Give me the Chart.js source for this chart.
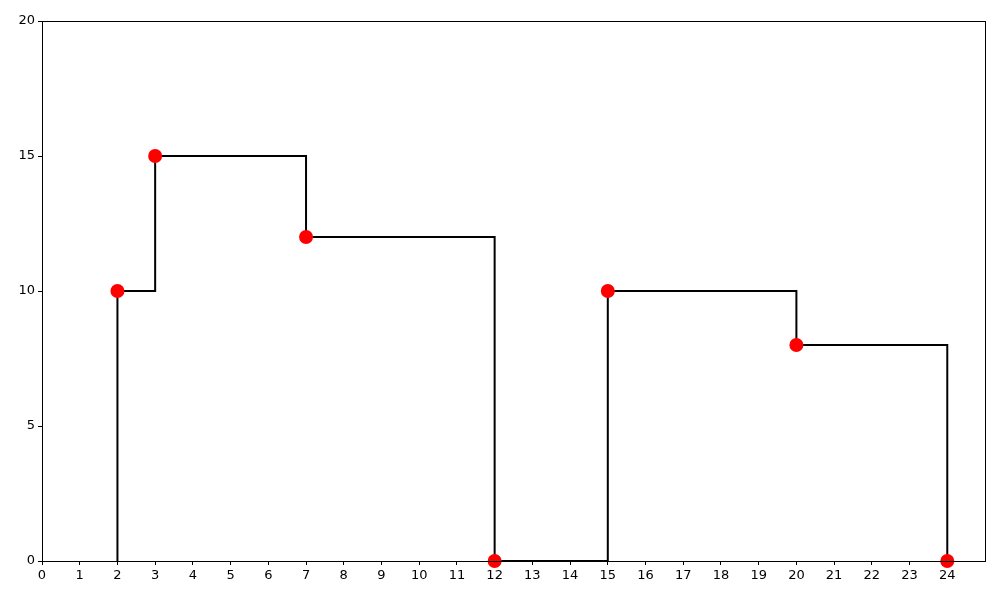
<!DOCTYPE html>
<html>
<head>
<meta charset="utf-8">
<script src="https://cdn.jsdelivr.net/npm/chart.js@4/dist/chart.umd.min.js"></script>
<style>
  html, body { margin: 0; padding: 0; background: #fff; }
  #wrap { width: 1000px; height: 600px; }
</style>
</head>
<body>
<div id="wrap"><canvas id="stepChart" width="1000" height="600"></canvas></div>
<script>
// Data
const xValues = [2, 3, 7, 12, 15, 20, 24];
const yValues = [10, 15, 12, 0, 10, 8, 0];
const startY = 0;
const xTicks = [0, 1, 2, 3, 4, 5, 6, 7, 8, 9, 10, 11, 12, 13, 14, 15, 16, 17, 18, 19, 20, 21, 22, 23, 24];
const yTicks = [0, 5, 10, 15, 20];

// step line starts from the baseline under the first point
const linePoints = [{ x: xValues[0], y: startY }].concat(
    xValues.map((x, i) => ({ x: x, y: yValues[i] }))
);
const markerPoints = xValues.map((x, i) => ({ x: x, y: yValues[i] }));

// full box around the plot area
const frame = {
    id: 'frame',
    afterDraw(chart) {
        const { ctx, chartArea: a } = chart;
        ctx.save();
        ctx.strokeStyle = '#000';
        ctx.lineWidth = 1;
        ctx.strokeRect(Math.round(a.left) + 0.5, Math.round(a.top) + 0.5,
            Math.round(a.right - a.left), Math.round(a.bottom - a.top));
        ctx.restore();
    }
};

const font = { family: 'DejaVu Sans', size: 13 };

const ctx = document.getElementById('stepChart').getContext('2d');
const stepChart = new Chart(ctx, {
    type: 'line',
    data: {
        datasets: [{
            data: markerPoints,
            showLine: false,
            pointRadius: 7,
            pointHoverRadius: 7,
            pointBackgroundColor: '#ff0000',
            pointBorderColor: '#ff0000',
            borderWidth: 0,
            clip: false
        }, {
            data: linePoints,
            stepped: 'before',
            borderColor: '#000',
            borderWidth: 2,
            pointRadius: 0,
            fill: false,
            clip: false
        }]
    },
    options: {
        responsive: false,
        animation: false,
        layout: { padding: { top: 21, right: 15, left: 0, bottom: 0 } },
        plugins: {
            legend: { display: false },
            tooltip: { enabled: false }
        },
        scales: {
            x: {
                type: 'linear',
                min: 0,
                max: 25,
                afterBuildTicks: scale => { scale.ticks = xTicks.map(v => ({ value: v })); },
                afterFit: scale => { scale.height = 39; },
                grid: { display: true, drawOnChartArea: false, drawTicks: true, tickLength: 4, color: '#000' },
                border: { display: true, color: '#000' },
                ticks: { color: '#000', font: font, padding: 3, maxRotation: 0, autoSkip: false }
            },
            y: {
                type: 'linear',
                min: 0,
                max: 20,
                afterBuildTicks: scale => { scale.ticks = yTicks.map(v => ({ value: v })); },
                afterFit: scale => { scale.width = 42; },
                grid: { display: true, drawOnChartArea: false, drawTicks: true, tickLength: 4, color: '#000' },
                border: { display: true, color: '#000' },
                ticks: { color: '#000', font: font, padding: 3 }
            }
        }
    },
    plugins: [frame]
});
</script>
</body>
</html>
